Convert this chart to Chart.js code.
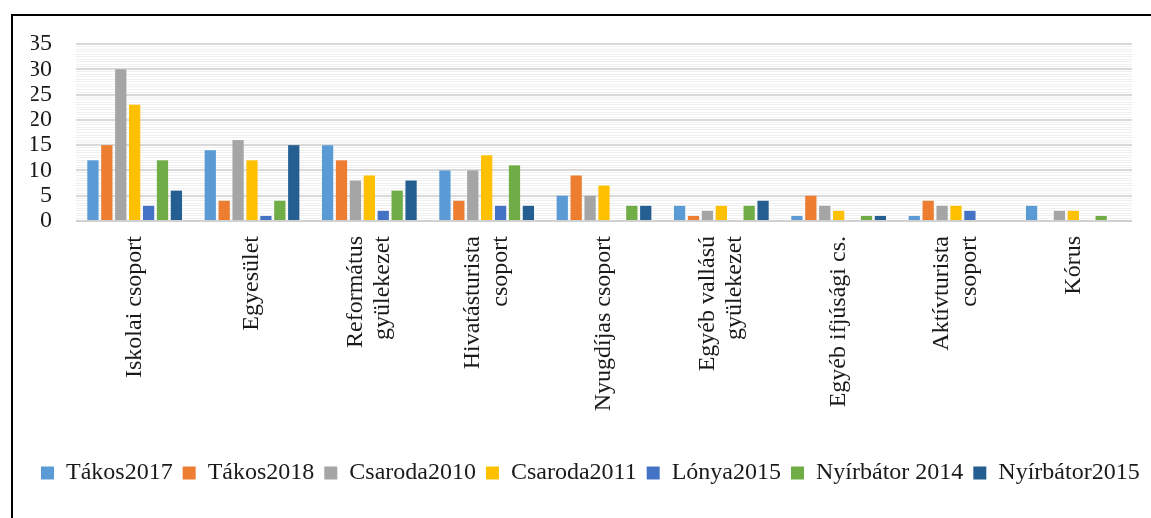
<!DOCTYPE html>
<html>
<head>
<meta charset="utf-8">
<script src="https://cdn.jsdelivr.net/npm/chart.js@4.4.1/dist/chart.umd.min.js"></script>
<style>
    html, body { margin: 0; padding: 0; background: #fff; overflow: hidden; }
    #wrap { position: relative; width: 1200px; height: 518px; }
    #frame { position: absolute; left: 11px; top: 14px; width: 1300px; height: 600px; border: 2px solid #000; }
    canvas { position: absolute; left: 0; top: 0; }
</style>
</head>
<body>
<div id="wrap">
    <div id="frame"></div>
    <canvas id="barChart" width="1200" height="518"></canvas>
</div>
<script>
// categories (multi-line where the original wraps)
const categories = [
    'Iskolai csoport',
    'Egyesület',
    ['Református', 'gyülekezet'],
    ['Hivatásturista', 'csoport'],
    'Nyugdíjas csoport',
    ['Egyéb vallású', 'gyülekezet'],
    'Egyéb ifjúsági cs.',
    ['Aktívturista', 'csoport'],
    'Kórus'
];

const seriesNames = ['Tákos2017', 'Tákos2018', 'Csaroda2010', 'Csaroda2011', 'Lónya2015', 'Nyírbátor 2014', 'Nyírbátor2015'];
const seriesColors = ['#5B9BD5', '#ED7D31', '#A5A5A5', '#FFC000', '#4472C4', '#70AD47', '#255E91'];

const takos2017     = [12, 14, 15, 10, 5, 3, 1, 1, 3];
const takos2018     = [15, 4, 12, 4, 9, 1, 5, 4, 0];
const csaroda2010   = [30, 16, 8, 10, 5, 2, 3, 3, 2];
const csaroda2011   = [23, 12, 9, 13, 7, 3, 2, 3, 2];
const lonya2015     = [3, 1, 2, 3, 0, 0, 0, 2, 0];
const nyirbator2014 = [12, 4, 6, 11, 3, 3, 1, 0, 1];
const nyirbator2015 = [6, 15, 8, 3, 3, 4, 1, 0, 0];

// y axis: labels every 5, light minor lines in between
const yTickLabels = [0, 5, 10, 15, 20, 25, 30, 35];
const yMinorStep = 0.5;

const seriesValues = [takos2017, takos2018, csaroda2010, csaroda2011, lonya2015, nyirbator2014, nyirbator2015];

const FONT = "'Liberation Serif', 'DejaVu Serif', serif";
const TEXT = '#1a1a1a';

const isMajor = (v) => yTickLabels.includes(v);

// centre wrapped x labels on their category (chart.js puts line 1 on the tick)
const centerWrappedLabels = {
    id: 'centerWrappedLabels',
    beforeDraw(chart) {
        const scale = chart.scales.x;
        const items = scale.getLabelItems(chart.chartArea);
        items.forEach(item => {
            if (Array.isArray(item.label) && item.label.length > 1) {
                const lh = item.font.lineHeight;
                item.options.translation[0] -= (item.label.length - 1) * lh / 2;
            }
        });
    }
};

const ctx = document.getElementById('barChart').getContext('2d');
new Chart(ctx, {
    type: 'bar',
    data: {
        labels: categories,
        datasets: seriesNames.map((name, i) => ({
            label: name,
            data: seriesValues[i],
            backgroundColor: seriesColors[i],
            borderWidth: 0,
            categoryPercentage: 0.83,
            barPercentage: 0.81
        }))
    },
    options: {
        responsive: false,
        animation: false,
        layout: { padding: { left: 31, right: 0, top: 44, bottom: 23 } },
        plugins: {
            tooltip: { enabled: false },
            legend: {
                position: 'bottom',
                align: 'start',
                labels: {
                    boxWidth: 13,
                    boxHeight: 13,
                    padding: 10,
                    color: TEXT,
                    font: { family: FONT, size: 24 }
                }
            }
        },
        scales: {
            x: {
                grid: { display: false },
                border: { display: false },
                ticks: {
                    autoSkip: false,
                    minRotation: 90,
                    maxRotation: 90,
                    padding: 7,
                    color: TEXT,
                    font: { family: FONT, size: 24, lineHeight: 1.15 }
                },
                afterFit: (scale) => { scale.height = 230; }
            },
            y: {
                min: yTickLabels[0],
                max: yTickLabels[yTickLabels.length - 1],
                border: { display: false },
                grid: {
                    drawTicks: false,
                    color: (c) => {
                        if (!c.tick) return '#f2f2f2';
                        if (c.tick.value === 0) return '#d0d0d0';
                        return isMajor(c.tick.value) ? '#d9d9d9' : '#f0f0f0';
                    },
                    lineWidth: (c) => (c.tick && isMajor(c.tick.value)) ? 2 : 1
                },
                ticks: {
                    stepSize: yMinorStep,
                    autoSkip: false,
                    padding: 24,
                    color: TEXT,
                    font: { family: FONT, size: 24 },
                    callback: (v) => isMajor(v) ? v : ''
                },
                afterFit: (scale) => { scale.width = 45; }
            },
            // empty spacer on the right so the plot ends where the original does
            spacer: {
                type: 'linear',
                position: 'right',
                grid: { display: false },
                border: { display: false },
                ticks: { display: false },
                afterFit: (scale) => { scale.width = 68; }
            }
        }
    },
    plugins: [centerWrappedLabels]
});
</script>
</body>
</html>
